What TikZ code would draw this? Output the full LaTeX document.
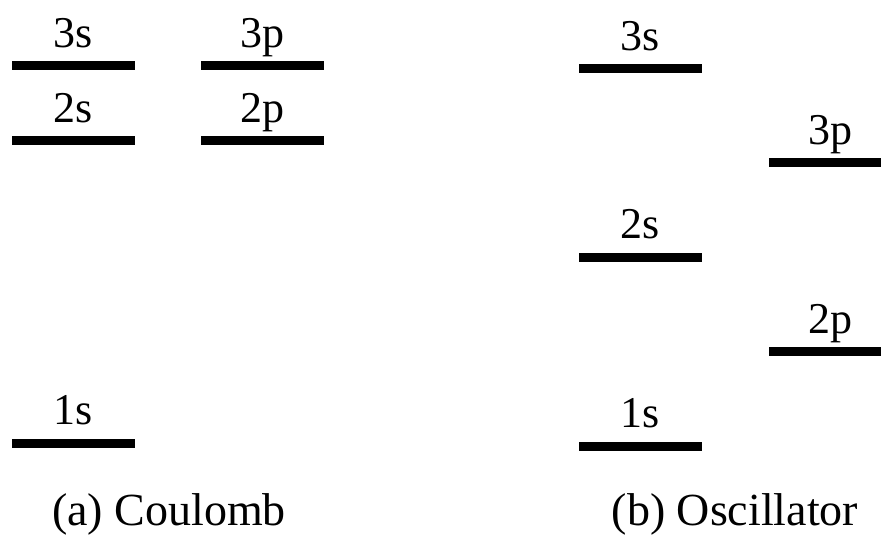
\documentclass[tikz,border=0pt]{standalone}
\usepackage{fontspec}
\setmainfont{Liberation Serif}
\begin{document}
\begin{tikzpicture}[x=1pt,y=-1pt,
  level/.style={line width=9pt},
  lab/.style={anchor=base,inner sep=0pt,font=\rmfamily\fontsize{44}{48}\selectfont},
  capt/.style={anchor=base,inner sep=0pt,font=\rmfamily\fontsize{46}{50}\selectfont}]
  \useasboundingbox (0,0) rectangle (881,538);
  % Coulomb levels
  \draw[level] (12,65.5) -- (135,65.5);
  \draw[level] (201,65.5) -- (324,65.5);
  \draw[level] (12,140.5) -- (135,140.5);
  \draw[level] (201,140.5) -- (324,140.5);
  \draw[level] (12,443.5) -- (135,443.5);
  \node[lab] (c3s) at (73.5,47) {3s};
  \node[lab] (c3p) at (262.5,47) {3p};
  \node[lab] (c2s) at (73.5,122) {2s};
  \node[lab] (c2p) at (262.5,122) {2p};
  \node[lab] (c1s) at (73.5,424) {1s};
  % Oscillator levels
  \draw[level] (579,68.5) -- (702,68.5);
  \draw[level] (769,162.5) -- (881,162.5);
  \draw[level] (579,257) -- (702,257);
  \draw[level] (769,351.5) -- (881,351.5);
  \draw[level] (579,446.5) -- (702,446.5);
  \node[lab] (o3s) at (640.5,50) {3s};
  \node[lab] (o3p) at (830,144) {3p};
  \node[lab] (o2s) at (640.5,238.5) {2s};
  \node[lab] (o2p) at (830,333) {2p};
  \node[lab] (o1s) at (640.5,427) {1s};
  % Captions
  \node[capt] (coul) at (169,525) {(a) Coulomb};
  \node[capt] (osc) at (735,525) {(b) Oscillator};
\end{tikzpicture}
\end{document}
